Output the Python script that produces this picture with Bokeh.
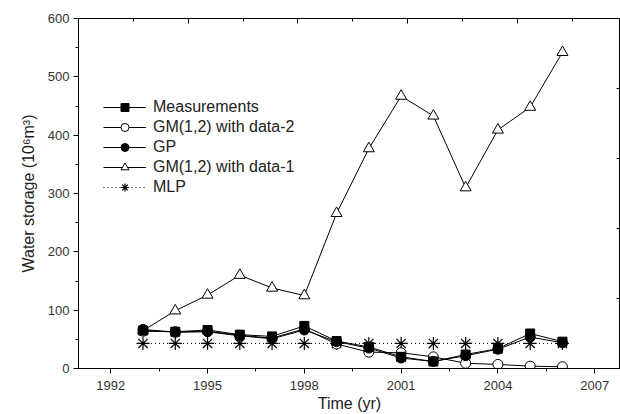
from bokeh.plotting import figure
from bokeh.models import (ColumnDataSource, Range1d, LinearAxis, FixedTicker,
                          Legend, LegendItem, CustomJSTickFormatter)
from bokeh.embed import file_html
from bokeh.resources import INLINE

years = [1993, 1994, 1995, 1996, 1997, 1998, 1999, 2000, 2001, 2002, 2003, 2004, 2005, 2006]
measurements = [65, 63, 66, 58, 55, 73, 47, 37, 20, 12, 24, 34, 60, 46]
gm_data2 = [64, 63, 64, 57, 52, 68, 42, 28, 27, 20, 9, 7, 4, 3]
gp = [67, 62, 63, 56, 51, 66, 46, 35, 18, 12, 22, 33, 54, 44]
gm_data1 = [65, 99, 126, 160, 138, 125, 266, 377, 467, 433, 310, 409, 448, 542]
mlp = [43, 43, 43, 43, 43, 43, 43, 43, 43, 43, 43, 43, 43, 43]

x_ticks = [1992, 1995, 1998, 2001, 2004, 2007]
y_ticks = [0, 100, 200, 300, 400, 500, 600]

src = ColumnDataSource(dict(x=years, meas=measurements, gm2=gm_data2, gp=gp,
                            gm1=gm_data1, mlp=mlp))

FONT = "Liberation Sans"

p = figure(width=620, height=414, output_backend="svg", toolbar_location=None,
           x_range=Range1d(1991, 2007.8), y_range=Range1d(0, 600),
           min_border_left=78, min_border_top=18, min_border_bottom=44,
           min_border_right=0, background_fill_color="white",
           border_fill_color="white")
p.grid.visible = False
p.outline_line_color = "black"
p.outline_line_width = 1

# bottom axis
xa = p.xaxis[0]
xa.ticker = FixedTicker(ticks=x_ticks, minor_ticks=[1990.5, 1993.5, 1996.5, 1999.5, 2002.5, 2005.5])
xa.axis_label = "Time (yr)"
# left axis
ya = p.yaxis[0]
ya.ticker = FixedTicker(ticks=y_ticks, minor_ticks=[50, 150, 250, 350, 450, 550])
ya.axis_label = "Water storage (10\u2076m\u00b3)"

for ax in (xa, ya):
    ax.axis_line_color = "black"
    ax.major_tick_line_color = "black"
    ax.minor_tick_line_color = "black"
    ax.major_tick_out = 5
    ax.major_tick_in = 0
    ax.minor_tick_out = 3
    ax.minor_tick_in = 0
    ax.major_label_text_font = FONT
    ax.major_label_text_font_size = "13px"
    ax.major_label_text_color = "#333333"
    ax.axis_label_text_font = FONT
    ax.axis_label_text_font_size = "16px"
    ax.axis_label_text_font_style = "normal"
    ax.axis_label_text_color = "#222222"
xa.major_label_standoff = 7
xa.axis_label_standoff = 2
ya.major_label_standoff = 4
ya.axis_label_standoff = 8

blank = CustomJSTickFormatter(code="return ''")

# top axis (independent tick spacing, as in the original)
p.extra_x_ranges = {"top": Range1d(0, (2007.8 - 1991) / 3.4)}
ta = LinearAxis(x_range_name="top",
                ticker=FixedTicker(ticks=[0, 1, 2, 3, 4], minor_ticks=[0.5, 1.5, 2.5, 3.5, 4.5]),
                formatter=blank,
                major_tick_in=5, major_tick_out=0, minor_tick_in=3, minor_tick_out=0,
                major_label_standoff=0,
                axis_line_color="black", major_tick_line_color="black",
                minor_tick_line_color="black")
p.add_layout(ta, "above")

# right axis
p.extra_y_ranges = {"right": Range1d(0, 5)}
ra = LinearAxis(y_range_name="right",
                ticker=FixedTicker(ticks=[1, 2, 3, 4], minor_ticks=[]),
                formatter=blank,
                major_tick_in=4, major_tick_out=0, minor_tick_in=0, minor_tick_out=0,
                major_label_standoff=0,
                axis_line_color="black", major_tick_line_color="black")
p.add_layout(ra, "right")

# series
l1 = p.line("x", "gm1", source=src, line_color="black", line_width=1)
s1 = p.scatter("x", "gm1", source=src, marker="triangle", size=11,
               fill_color="white", line_color="black", line_width=1)
l5 = p.line("x", "mlp", source=src, line_color="black", line_width=1, line_dash="1 3")
s5 = p.scatter("x", "mlp", source=src, marker="asterisk", size=13,
               line_color="black", line_width=1.2)
l2 = p.line("x", "gm2", source=src, line_color="black", line_width=1)
s2 = p.scatter("x", "gm2", source=src, marker="circle", size=10,
               fill_color="white", line_color="black", line_width=1)
l3 = p.line("x", "gp", source=src, line_color="black", line_width=1)
s3 = p.scatter("x", "gp", source=src, marker="circle", size=10,
               fill_color="black", line_color="black", line_width=1)
l4 = p.line("x", "meas", source=src, line_color="black", line_width=1)
s4 = p.scatter("x", "meas", source=src, marker="square", size=9,
               fill_color="black", line_color="black", line_width=1)

legend = Legend(items=[
    LegendItem(label="Measurements", renderers=[l4, s4]),
    LegendItem(label="GM(1,2) with data-2", renderers=[l2, s2]),
    LegendItem(label="GP", renderers=[l3, s3]),
    LegendItem(label="GM(1,2) with data-1", renderers=[l1, s1]),
    LegendItem(label="MLP", renderers=[l5, s5]),
], location=(25, 171))
legend.border_line_color = None
legend.background_fill_alpha = 0
legend.padding = 0
legend.margin = 0
legend.spacing = 0
legend.glyph_width = 43
legend.glyph_height = 20
legend.label_height = 20
legend.label_standoff = 7
legend.label_text_font = FONT
legend.label_text_font_size = "16px"
legend.label_text_color = "#222222"
p.add_layout(legend, "center")

open("out.html", "w").write(file_html(p, INLINE))
